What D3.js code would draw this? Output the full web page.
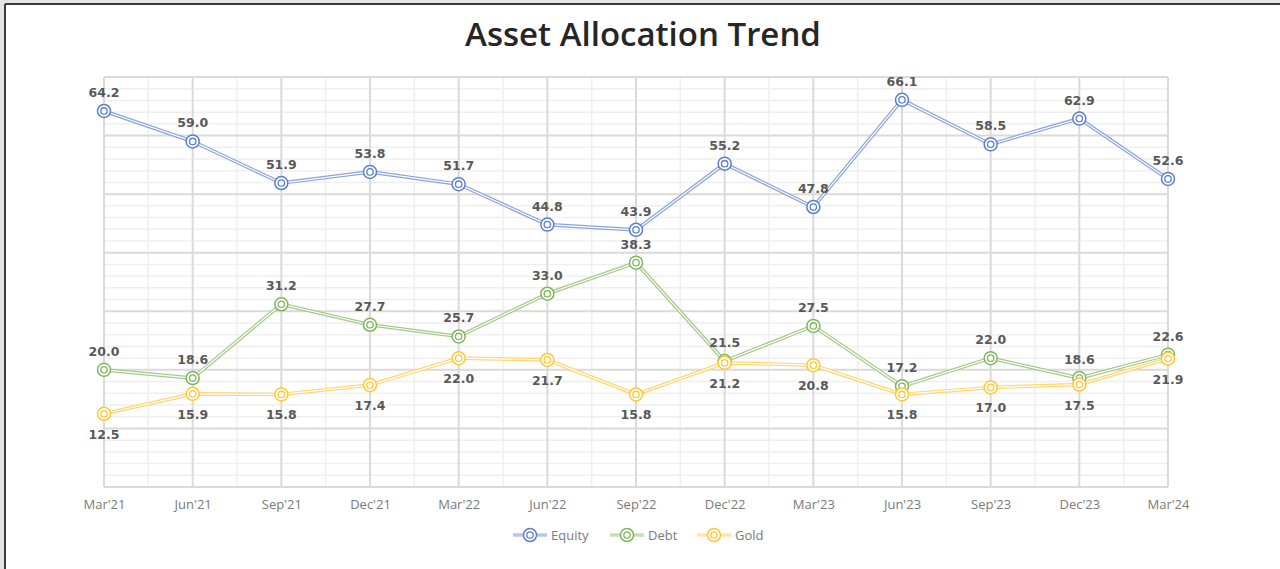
<!DOCTYPE html>
<html>
<head>
<meta charset="utf-8">
<script src="https://cdn.jsdelivr.net/npm/d3@7"></script>
<style>
  body { margin: 0; background: #e4e4e4; }
  svg { display: block; }
</style>
</head>
<body>
<div id="chart"></div>
<script>
const width = 1280;
const height = 569;

// datos
const quarters = ["Mar'21", "Jun'21", "Sep'21", "Dec'21", "Mar'22", "Jun'22", "Sep'22",
  "Dec'22", "Mar'23", "Jun'23", "Sep'23", "Dec'23", "Mar'24"];
const equity = [64.2, 59.0, 51.9, 53.8, 51.7, 44.8, 43.9, 55.2, 47.8, 66.1, 58.5, 62.9, 52.6];
const debt = [20.0, 18.6, 31.2, 27.7, 25.7, 33.0, 38.3, 21.5, 27.5, 17.2, 22.0, 18.6, 22.6];
const gold = [12.5, 15.9, 15.8, 17.4, 22.0, 21.7, 15.8, 21.2, 20.8, 15.8, 17.0, 17.5, 21.9];
const seriesNames = ['Equity', 'Debt', 'Gold'];
const yMajorTicks = [0, 10, 20, 30, 40, 50, 60, 70];

const series = [
  { name: seriesNames[0], values: equity, color: '#5a7fca', line: '#8aa3d8', labelPos: 'above' },
  { name: seriesNames[1], values: debt, color: '#80b55d', line: '#a3ca89', labelPos: 'above' },
  { name: seriesNames[2], values: gold, color: '#ffc733', line: '#ffd670', labelPos: 'below' }
];

const plot = { left: 104, right: 1168, top: 77, bottom: 487 };

const svg = d3.select('#chart')
  .append('svg')
  .attr('width', width)
  .attr('height', height);

// marco
svg.append('rect')
  .attr('x', 5).attr('y', 4)
  .attr('width', width).attr('height', height)
  .attr('fill', 'white');
svg.append('line')
  .attr('x1', 5).attr('x2', width).attr('y1', 4).attr('y2', 4)
  .attr('stroke', '#3c3c3c').attr('stroke-width', 2);
svg.append('line')
  .attr('x1', 5).attr('x2', 5).attr('y1', 4).attr('y2', height)
  .attr('stroke', '#3c3c3c').attr('stroke-width', 2);

// titulo
svg.append('text')
  .attr('x', 643)
  .attr('y', 46)
  .attr('text-anchor', 'middle')
  .attr('font-family', 'Open Sans, sans-serif')
  .attr('font-weight', 600)
  .attr('font-size', 33)
  .attr('fill', '#262626')
  .text('Asset Allocation Trend');

const xScale = d3.scalePoint()
  .domain(quarters)
  .range([plot.left, plot.right]);

const yScale = d3.scaleLinear()
  .domain([0, 70])
  .range([plot.bottom, plot.top]);

const step = xScale.step();

// grid
const grid = svg.append('g');
const minorY = d3.range(0, 70, 2).filter(v => v % 10 !== 0);
grid.selectAll('.minory')
  .data(minorY)
  .enter()
  .append('line')
  .attr('x1', plot.left).attr('x2', plot.right)
  .attr('y1', d => yScale(d)).attr('y2', d => yScale(d))
  .attr('stroke', '#efefef').attr('stroke-width', 1.5);

const minorX = quarters.slice(1).map(q => xScale(q) - step / 2);
grid.selectAll('.minorx')
  .data(minorX)
  .enter()
  .append('line')
  .attr('x1', d => d).attr('x2', d => d)
  .attr('y1', plot.top).attr('y2', plot.bottom)
  .attr('stroke', '#efefef').attr('stroke-width', 1.5);

grid.selectAll('.majory')
  .data(yMajorTicks)
  .enter()
  .append('line')
  .attr('x1', plot.left).attr('x2', plot.right)
  .attr('y1', d => yScale(d)).attr('y2', d => yScale(d))
  .attr('stroke', '#dadada').attr('stroke-width', 2);

grid.selectAll('.majorx')
  .data(quarters)
  .enter()
  .append('line')
  .attr('x1', d => xScale(d)).attr('x2', d => xScale(d))
  .attr('y1', plot.top).attr('y2', plot.bottom)
  .attr('stroke', '#dadada').attr('stroke-width', 2);

// eje x
const xAxis = svg.append('g')
  .attr('transform', `translate(0, ${plot.bottom})`)
  .call(d3.axisBottom(xScale).tickSize(0).tickPadding(13));
xAxis.select('.domain').remove();
xAxis.selectAll('text')
  .attr('font-family', 'Open Sans, sans-serif')
  .attr('font-size', 13)
  .attr('fill', '#7a7a7a');

// lineas
const line = d3.line()
  .x((d, i) => xScale(quarters[i]))
  .y(d => yScale(d));

function drawMarker(g, x, y, color) {
  g.append('circle')
    .attr('cx', x).attr('cy', y).attr('r', 6.5)
    .attr('fill', 'white').attr('stroke', color).attr('stroke-width', 1.5);
  g.append('circle')
    .attr('cx', x).attr('cy', y).attr('r', 3.2)
    .attr('fill', 'white').attr('stroke', color).attr('stroke-width', 1.3);
}

const groupLines = svg.append('g');
series.forEach(s => {
  const g = groupLines.append('g');
  g.append('path')
    .attr('d', line(s.values))
    .attr('fill', 'none')
    .attr('stroke', s.line)
    .attr('stroke-width', 3.6);
  g.append('path')
    .attr('d', line(s.values))
    .attr('fill', 'none')
    .attr('stroke', 'white')
    .attr('stroke-width', 1.2);
});

series.forEach(s => {
  const g = groupLines.append('g');
  s.values.forEach((v, i) => drawMarker(g, xScale(quarters[i]), yScale(v), s.color));
});

// etiquetas
series.forEach(s => {
  svg.append('g')
    .selectAll('text')
    .data(s.values)
    .enter()
    .append('text')
    .attr('x', (d, i) => xScale(quarters[i]))
    .attr('y', d => yScale(d) + (s.labelPos === 'above' ? -14 : 25))
    .attr('text-anchor', 'middle')
    .attr('font-family', 'DejaVu Sans, Verdana, sans-serif')
    .attr('font-weight', 'bold')
    .attr('font-size', 12.5)
    .attr('fill', '#595959')
    .text(d => d.toFixed(1));
});

// leyenda
const legendX = [513, 610, 697];
const legend = svg.append('g');
series.forEach((s, i) => {
  const lg = legend.append('g').attr('transform', `translate(${legendX[i]}, 535)`);
  lg.append('line')
    .attr('x1', 0).attr('x2', 34).attr('y1', 0).attr('y2', 0)
    .attr('stroke', s.line).attr('stroke-width', 3.6).attr('opacity', 0.6);
  drawMarker(lg, 17, 0, s.color);
  lg.append('text')
    .attr('x', 38)
    .attr('y', 4.5)
    .attr('font-family', 'Open Sans, sans-serif')
    .attr('font-size', 13)
    .attr('fill', '#7a7a7a')
    .text(s.name);
});
</script>
</body>
</html>
